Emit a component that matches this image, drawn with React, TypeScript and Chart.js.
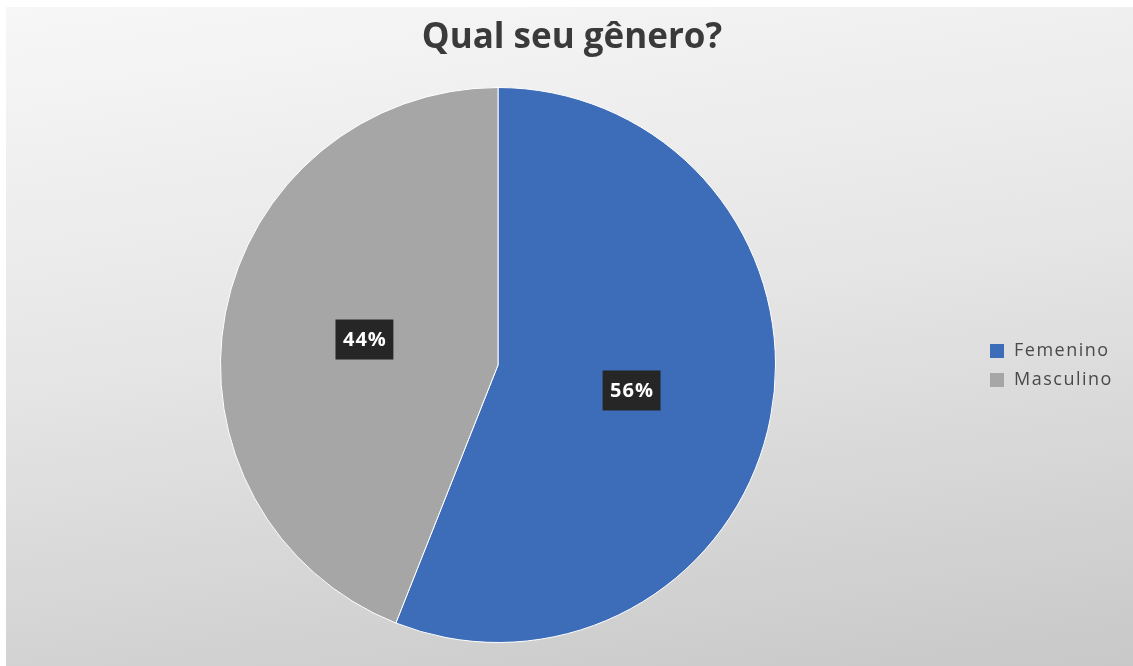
import React, { useEffect, useRef } from "react";
import { Chart, registerables } from "chart.js";

Chart.register(...registerables);

const TITLE = "Qual seu gênero?";
const CATEGORIES = ["Femenino", "Masculino"];
const VALUES = [56, 44];
const COLORS = ["#3d6cb9", "#a6a6a6"];

const W = 1127;
const H = 659;

const titlePlugin = {
  id: "customTitle",
  afterDraw(chart: any) {
    const ctx = chart.ctx;
    ctx.save();
    ctx.font = "bold 35px 'Open Sans'";
    ctx.fillStyle = "#3a3a3a";
    ctx.textAlign = "center";
    ctx.textBaseline = "alphabetic";
    ctx.fillText(TITLE, 566, 41);
    ctx.restore();
  },
};

const labelPlugin = {
  id: "pctLabels",
  afterDatasetsDraw(chart: any) {
    const ctx = chart.ctx;
    const ds = chart.data.datasets[0];
    const total = ds.data.reduce((a: number, b: number) => a + b, 0);
    const meta = chart.getDatasetMeta(0);
    meta.data.forEach((arc: any, i: number) => {
      const p = arc.getProps(["x", "y", "startAngle", "endAngle", "outerRadius"], true);
      const mid = (p.startAngle + p.endAngle) / 2;
      const d = p.outerRadius * 0.49;
      const cx = p.x + Math.cos(mid) * d;
      const cy = p.y + Math.sin(mid) * d;
      const txt = Math.round((ds.data[i] / total) * 100) + "%";
      ctx.save();
      ctx.font = "bold 20px 'Open Sans'";
      (ctx as any).letterSpacing = "1px";
      const tw = ctx.measureText(txt).width;
      const bw = tw + 14;
      const bh = 40;
      ctx.fillStyle = "#262626";
      ctx.fillRect(cx - bw / 2, cy - bh / 2, bw, bh);
      ctx.fillStyle = "#ffffff";
      ctx.textAlign = "center";
      ctx.textBaseline = "middle";
      ctx.fillText(txt, cx + 0.5, cy + 1);
      ctx.restore();
    });
  },
};

const legendPlugin = {
  id: "customLegend",
  afterDraw(chart: any) {
    const ctx = chart.ctx;
    const labels = chart.data.labels;
    const colors = chart.data.datasets[0].backgroundColor;
    const x0 = 984;
    const y0 = 344;
    const gap = 29;
    ctx.save();
    ctx.font = "18px 'Open Sans'";
    (ctx as any).letterSpacing = "1.5px";
    ctx.textBaseline = "middle";
    ctx.textAlign = "left";
    labels.forEach((l: string, i: number) => {
      const y = y0 + i * gap;
      ctx.fillStyle = colors[i];
      ctx.fillRect(x0, y - 7, 14, 14);
      ctx.fillStyle = "#4a4a4a";
      ctx.fillText(l, x0 + 24, y);
    });
    ctx.restore();
  },
};

export default function App() {
  const ref = useRef<HTMLCanvasElement>(null);
  useEffect(() => {
    if (!ref.current) return;
    const chart = new Chart(ref.current, {
      type: "pie",
      data: {
        labels: CATEGORIES,
        datasets: [
          {
            data: VALUES,
            backgroundColor: COLORS,
            borderColor: "#ffffff",
            borderWidth: 1,
          },
        ],
      },
      options: {
        responsive: false,
        animation: false,
        layout: { padding: { left: 214, right: 357, top: 80, bottom: 23 } },
        plugins: {
          legend: { display: false },
          tooltip: { enabled: false },
          title: { display: false },
        },
      },
      plugins: [titlePlugin, labelPlugin, legendPlugin],
    });
    return () => chart.destroy();
  }, []);

  return (
    <div
      style={{
        position: "fixed",
        left: 0,
        top: 0,
        width: 1133,
        height: 666,
        background: "#ffffff",
        overflow: "hidden",
      }}
    >
      <div
        style={{
          position: "absolute",
          left: 6,
          top: 7,
          width: W,
          height: H,
          background: "linear-gradient(172deg, #f7f7f7 0%, #e6e6e6 45%, #c8c8c8 100%)",
        }}
      >
        <canvas ref={ref} width={W} height={H} style={{ display: "block" }} />
      </div>
    </div>
  );
}
